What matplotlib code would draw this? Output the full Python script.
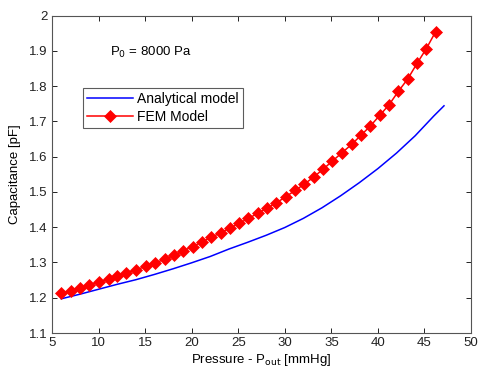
import matplotlib
matplotlib.use("Agg")
import matplotlib.pyplot as plt

plt.rcParams['font.family'] = ['Liberation Sans', 'DejaVu Sans']

# Analytical model (blue line)
analytical_x = [6, 8, 10, 12, 14, 16, 18, 20, 22, 24, 26, 28, 30, 32, 34, 36,
                38, 40, 42, 44, 46, 47.1]
analytical_y = [1.197, 1.210, 1.224, 1.238, 1.251, 1.266, 1.282, 1.299, 1.317,
                1.338, 1.357, 1.377, 1.399, 1.425, 1.455, 1.489, 1.526, 1.566,
                1.610, 1.659, 1.715, 1.744]

# FEM model (red diamonds)
fem_x = [6.0, 7.0, 8.0, 9.0, 10.0, 11.1, 12.0, 13.0, 14.0, 15.1, 16.1, 17.1,
         18.1, 19.1, 20.1, 21.1, 22.1, 23.1, 24.1, 25.1, 26.1, 27.1, 28.1,
         29.1, 30.1, 31.1, 32.1, 33.1, 34.1, 35.1, 36.1, 37.2, 38.2, 39.2,
         40.2, 41.2, 42.2, 43.2, 44.2, 45.2, 46.2]
fem_y = [1.212, 1.220, 1.228, 1.236, 1.244, 1.252, 1.261, 1.270, 1.279, 1.289,
         1.299, 1.309, 1.320, 1.333, 1.345, 1.358, 1.371, 1.384, 1.397, 1.411,
         1.425, 1.439, 1.454, 1.469, 1.486, 1.504, 1.522, 1.542, 1.564, 1.587,
         1.610, 1.635, 1.661, 1.687, 1.717, 1.747, 1.785, 1.820, 1.864, 1.906,
         1.954]

x_ticks = [5, 10, 15, 20, 25, 30, 35, 40, 45, 50]
y_ticks = [1.1, 1.2, 1.3, 1.4, 1.5, 1.6, 1.7, 1.8, 1.9, 2]
y_tick_labels = ['1.1', '1.2', '1.3', '1.4', '1.5', '1.6', '1.7', '1.8', '1.9', '2']

fig = plt.figure(figsize=(4.78, 3.72), dpi=100)
ax = fig.add_axes([52/478, 1 - 333/372, (471-52)/478, (333-15.5)/372])

ax.plot(analytical_x, analytical_y, color='#0000ff', lw=1.1, label='Analytical model')
ax.plot(fem_x, fem_y, color='#ff0000', lw=1.1, marker='D', markersize=6,
        markeredgewidth=0.5, label='FEM Model')

ax.set_xlim(5, 50)
ax.set_ylim(1.1, 2)
ax.set_xticks(x_ticks)
ax.set_yticks(y_ticks)
ax.set_yticklabels(y_tick_labels)

ax.tick_params(direction='in', length=3.5, width=0.7, top=True, right=True,
               labelsize=9.5, colors='#222222', pad=3)
for s in ax.spines.values():
    s.set_color('#555555')
    s.set_linewidth(0.8)

ax.set_xlabel('Pressure - P$_{\\mathrm{out}}$ [mmHg]', fontsize=9.5, labelpad=2)
ax.set_ylabel('Capacitance [pF]', fontsize=9.5, labelpad=6)

ax.text(0.138, 0.885, 'P$_{\\mathrm{0}}$ = 8000 Pa', transform=ax.transAxes,
        fontsize=9.5, va='center', ha='left')

leg = ax.legend(loc='upper left', bbox_to_anchor=(0.074, 0.772), fontsize=10,
                frameon=True, fancybox=False, borderpad=0.3, labelspacing=0.3,
                handlelength=3.3, handletextpad=0.3, borderaxespad=0)
leg.get_frame().set_edgecolor('#333333')
leg.get_frame().set_linewidth(0.8)

fig.savefig('out.png', dpi=100)
